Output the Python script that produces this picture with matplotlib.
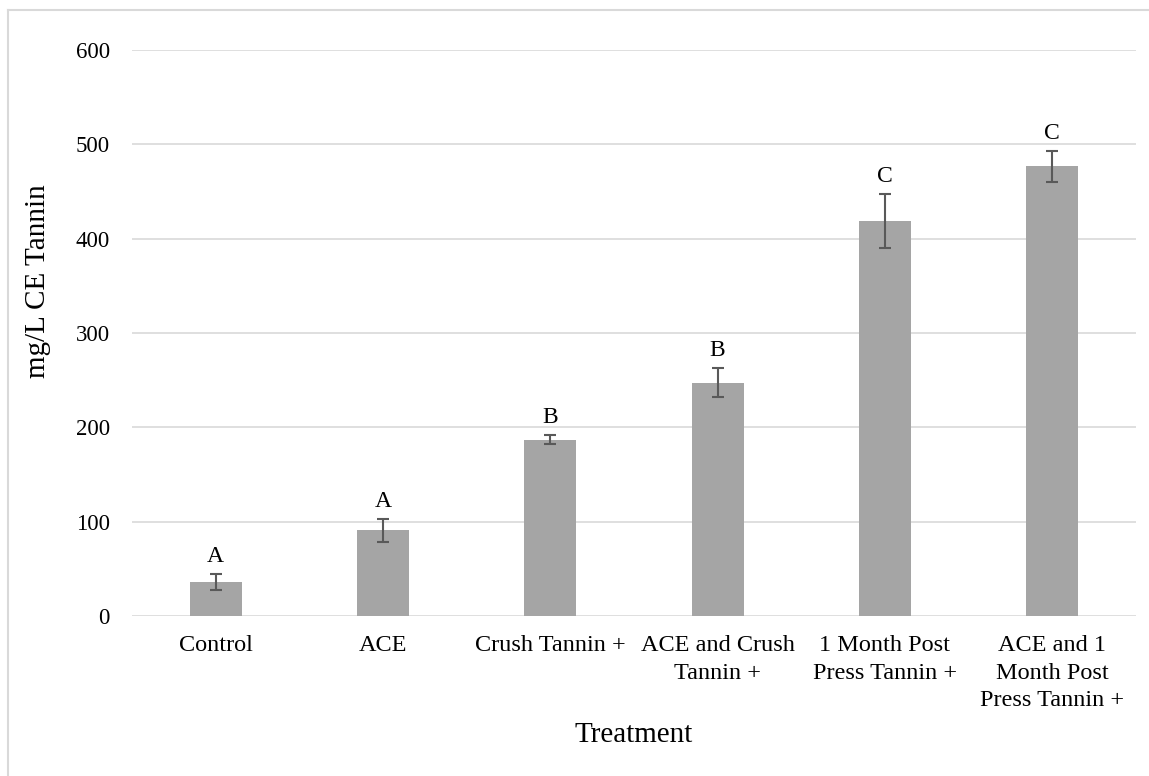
import matplotlib
matplotlib.use('Agg')
import matplotlib.pyplot as plt
from matplotlib.lines import Line2D

# datos
tratamientos = ['Control', 'ACE', 'Crush Tannin +', 'ACE and Crush\nTannin +',
                '1 Month Post\nPress Tannin +', 'ACE and 1\nMonth Post\nPress Tannin +']
taninos = [35.7, 90.9, 187.0, 247.4, 418.8, 476.6]
errores = [8.5, 12.0, 4.5, 15.7, 28.5, 16.5]
letras = ['A', 'A', 'B', 'B', 'C', 'C']

plt.rcParams['font.family'] = ['Liberation Serif', 'DejaVu Serif']

W, H = 1149, 776
fig = plt.figure(figsize=(W / 100, H / 100), dpi=100)
ax = fig.add_axes([132 / W, 1 - 616 / H, (1136 - 132) / W, (616 - 50) / H])

x = list(range(len(tratamientos)))
ax.bar(x, taninos, width=0.31, color='#a5a5a5', zorder=2)
ax.errorbar(x, taninos, yerr=errores, fmt='none', ecolor='#595959',
            elinewidth=1.5, capsize=4.5, capthick=1.5, zorder=3)

# letras de significancia
for xi, v, e, l in zip(x, taninos, errores, letras):
    ax.annotate(l, (xi, v + e), xytext=(0, 5), textcoords='offset points',
                ha='center', va='bottom', fontsize=17)

ax.set_xlim(-0.5, len(tratamientos) - 0.5)
ax.set_ylim(0, 600)
ax.set_yticks(range(0, 601, 100))
ax.set_xticks(x)
ax.set_xticklabels(tratamientos, fontsize=17.5, linespacing=1.4)
ax.tick_params(axis='y', length=0, pad=16, labelsize=16.5)
ax.tick_params(axis='x', length=0, pad=14)
ax.grid(axis='y', color='#d9d9d9', linewidth=1.2, zorder=0)
ax.set_axisbelow(True)
for s in ax.spines.values():
    s.set_visible(False)

# titulos de ejes
fig.text(38 / W, 1 - 281 / H, 'mg/L CE Tannin', rotation=90, ha='center', va='center',
         fontsize=21)
fig.text(0.5 * (132 + 1136) / W, 1 - 742 / H, 'Treatment', ha='center', va='baseline',
         fontsize=21)

# borde del area del grafico
fig.add_artist(Line2D([8 / W, 8 / W], [0, 1 - 10 / H], color='#d9d9d9',
                      linewidth=1.5, transform=fig.transFigure))
fig.add_artist(Line2D([8 / W, 1], [1 - 10 / H, 1 - 10 / H], color='#d9d9d9',
                      linewidth=1.5, transform=fig.transFigure))

fig.savefig('out.png', dpi=100)
